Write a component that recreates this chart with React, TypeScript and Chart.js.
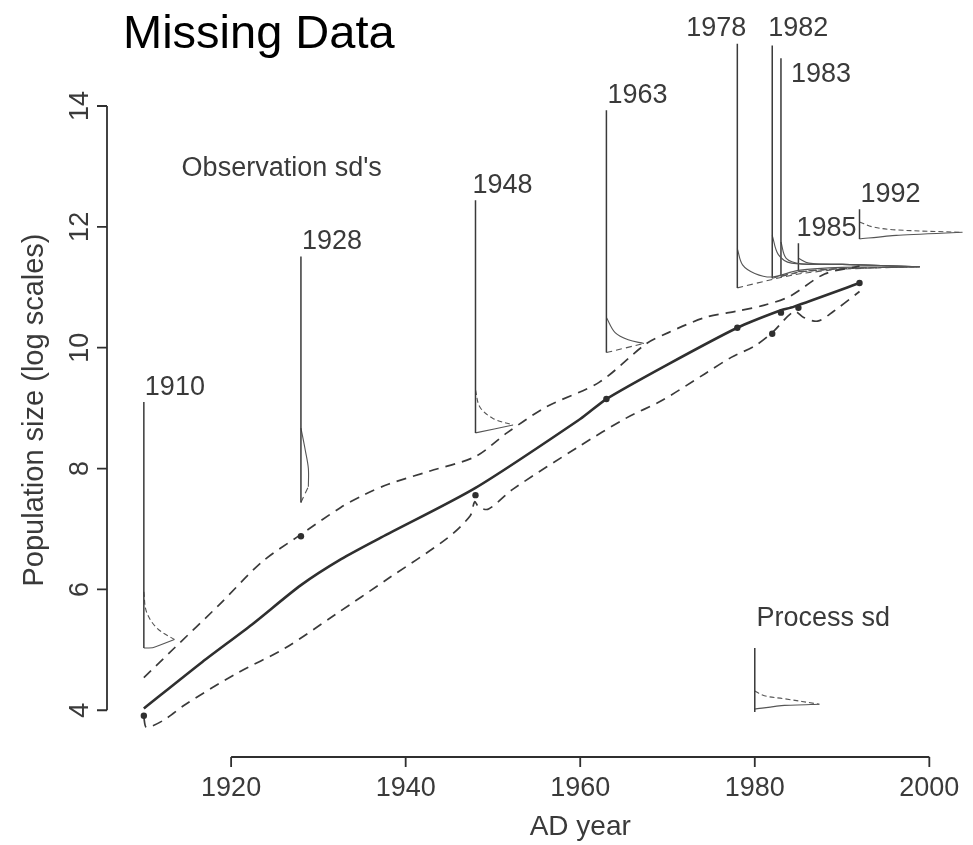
import { useEffect, useRef } from "react";
import { Chart, registerables } from "chart.js";

Chart.register(...registerables);

// ---------- data ----------
const xTicks = [1920, 1940, 1960, 1980, 2000];
const yTicks = [4, 6, 8, 10, 12, 14];

const trendYears = [1910, 1916.7, 1922.4, 1928, 1932.6, 1937.2, 1948, 1960, 1963, 1970, 1978, 1982.6, 1984.5, 1992];
const trendValues = [4.03, 4.8, 5.42, 6.07, 6.5, 6.86, 7.68, 8.82, 9.15, 9.72, 10.33, 10.6, 10.68, 11.07];

const upperYears = [1910, 1913.5, 1918.6, 1923.5, 1927.8, 1932.6, 1935.3, 1938, 1942.8, 1948, 1951.6, 1956.1, 1962.2, 1967.5, 1970.1, 1974.3, 1978.1, 1981, 1984, 1988, 1992];
const upperValues = [4.54, 5.03, 5.74, 6.45, 6.89, 7.36, 7.57, 7.74, 7.96, 8.2, 8.59, 9.02, 9.43, 10.06, 10.25, 10.5, 10.61, 10.7, 10.85, 11.22, 11.35];

const lowerYears = [1910, 1910.3, 1912.2, 1914.8, 1920.5, 1926.2, 1931.9, 1938, 1944.7, 1947.4, 1947.9, 1948.4, 1949.5, 1952.3, 1959.9, 1965.2, 1969.4, 1974.3, 1977.3, 1980, 1982, 1984.5, 1985.6, 1987.2, 1989, 1992];
const lowerValues = [3.88, 3.72, 3.83, 4.1, 4.6, 5.03, 5.58, 6.18, 6.84, 7.22, 7.45, 7.36, 7.33, 7.66, 8.37, 8.83, 9.13, 9.57, 9.84, 10.03, 10.25, 10.6, 10.5, 10.44, 10.6, 10.93];

const obsYears = [1910, 1928, 1948, 1963, 1978, 1982, 1983, 1985, 1992];
const obsValues = [3.91, 6.88, 7.56, 9.15, 10.33, 10.23, 10.58, 10.66, 11.07];

// observation sd glyphs (sideways densities)
const glyphYears = [1910, 1928, 1948, 1963, 1978, 1982, 1983, 1985, 1992];
const glyphTop = [9.1, 11.51, 12.44, 13.93, 15.03, 15.0, 14.79, 11.73, 12.29];
const glyphBottom = [5.03, 7.44, 8.59, 9.92, 10.99, 11.15, 11.18, 11.26, 11.8];
const glyphCurveX = [
  [1910, 1910.3, 1911.5, 1913.5],
  [1928, 1928.5, 1928.85, 1928.85],
  [1948, 1948.5, 1950, 1952.3],
  [1963, 1964, 1965.5, 1967.3],
  [1978, 1978.6, 1980, 1982, 1985, 1990, 1998.9],
  [1982, 1982.7, 1984.2, 1990, 1998.9],
  [1983, 1983.6, 1985.3, 1990, 1998.9],
  [1985, 1986.2, 1990, 1998.9],
  [1992, 1993.5, 1996.2, 2003.8],
];
const glyphCurveY = [
  [5.96, 5.63, 5.36, 5.17],
  [8.67, 8.3, 8.0, 7.7],
  [9.3, 9.02, 8.83, 8.72],
  [10.5, 10.25, 10.13, 10.07],
  [11.64, 11.37, 11.23, 11.17, 11.28, 11.33, 11.34],
  [11.86, 11.54, 11.4, 11.38, 11.34],
  [11.75, 11.48, 11.39, 11.38, 11.34],
  [11.48, 11.4, 11.38, 11.34],
  [12.08, 12.0, 11.95, 11.91],
];
const glyphBaseX = [
  [1910, 1911.1, 1913.5],
  [1928, 1928.85],
  [1948, 1952.3],
  [1963, 1967.3],
  [1978, 1982, 1985, 1990, 1998.9],
  [1982, 1985, 1990, 1998.9],
  [1983, 1986, 1990, 1998.9],
  [1985, 1990, 1998.9],
  [1992, 1996.2, 2003.8],
];
const glyphBaseY = [
  [5.03, 5.04, 5.17],
  [7.44, 7.7],
  [8.59, 8.72],
  [9.92, 10.07],
  [10.99, 11.13, 11.22, 11.3, 11.34],
  [11.15, 11.25, 11.31, 11.34],
  [11.18, 11.27, 11.31, 11.34],
  [11.26, 11.31, 11.34],
  [11.8, 11.86, 11.91],
];

// process sd glyph
const processYear = 1980;
const processTop = 5.03;
const processBottom = 3.97;
const processCurveX = [1980, 1981.1, 1983.4, 1987.4];
const processCurveY = [4.32, 4.24, 4.19, 4.1];
const processBaseX = [1980, 1983.4, 1987.4];
const processBaseY = [4.02, 4.08, 4.1];

const titleText = "Missing Data";
const xTitle = "AD year";
const yTitle = "Population size (log scales)";
const obsNote = { text: "Observation sd's", x: 1925.8, y: 12.96 };
const procNote = { text: "Process sd", x: 1980.2, y: 5.52 };

// ---------- layout / style ----------
const W = 973;
const H = 845;
const X_MIN = 1893.977;
const X_MAX = 2004.545;
const Y_MIN = 1.836;
const Y_MAX = 15.6885;
const FONT = "'Liberation Sans', Arial, Helvetica, sans-serif";
const INK = "#2f2f2f";
const TEXT = "#3a3a3a";
const dashedCurveYears = new Set([1910, 1948, 1992]);

const pts = (xs: number[], ys: number[]) => xs.map((x, i) => ({ x, y: ys[i] }));

function buildDatasets() {
  const ds: any[] = [];
  ds.push({
    data: pts(obsYears, obsValues),
    showLine: false,
    pointRadius: 3.2,
    pointBackgroundColor: INK,
    pointBorderWidth: 0,
  });
  ds.push({
    data: pts(trendYears, trendValues),
    showLine: true,
    borderColor: INK,
    borderWidth: 2.6,
    pointRadius: 0,
    tension: 0.25,
  });
  ds.push({
    data: pts(upperYears, upperValues),
    showLine: true,
    borderColor: "#3a3a3a",
    borderWidth: 1.7,
    borderDash: [10, 7],
    pointRadius: 0,
    tension: 0.3,
  });
  ds.push({
    data: pts(lowerYears, lowerValues),
    showLine: true,
    borderColor: "#3a3a3a",
    borderWidth: 1.7,
    borderDash: [10, 7],
    pointRadius: 0,
    tension: 0.3,
  });
  const addGlyph = (
    year: number, top: number, bottom: number,
    cx: number[], cy: number[], bx: number[], by: number[], curveDashed: boolean
  ) => {
    ds.push({
      data: [{ x: year, y: top }, { x: year, y: bottom }],
      showLine: true, borderColor: "#3a3a3a", borderWidth: 1.5, pointRadius: 0, tension: 0,
    });
    ds.push({
      data: pts(cx, cy),
      showLine: true, borderColor: "#555555", borderWidth: 1.1, pointRadius: 0, tension: 0.35,
      borderDash: curveDashed ? [5, 3] : [],
    });
    ds.push({
      data: pts(bx, by),
      showLine: true, borderColor: "#555555", borderWidth: 1.1, pointRadius: 0, tension: 0.2,
      borderDash: curveDashed ? [] : [6, 4],
    });
  };
  glyphYears.forEach((yr, i) => {
    addGlyph(yr, glyphTop[i], glyphBottom[i], glyphCurveX[i], glyphCurveY[i], glyphBaseX[i], glyphBaseY[i], dashedCurveYears.has(yr));
  });
  addGlyph(processYear, processTop, processBottom, processCurveX, processCurveY, processBaseX, processBaseY, true);
  return ds;
}

const textPlugin = {
  id: "textPlugin",
  afterDraw(chart: any) {
    const ctx: CanvasRenderingContext2D = chart.ctx;
    const xs = chart.scales.x;
    const ys = chart.scales.y;
    const px = (v: number) => xs.getPixelForValue(v);
    const py = (v: number) => ys.getPixelForValue(v);
    ctx.save();

    // title
    ctx.fillStyle = "#000";
    ctx.font = `47px ${FONT}`;
    ctx.textAlign = "left";
    ctx.textBaseline = "alphabetic";
    ctx.fillText(titleText, 123, 48);

    // y axis
    const yAxisX = 107;
    ctx.strokeStyle = INK;
    ctx.lineWidth = 1.8;
    ctx.beginPath();
    ctx.moveTo(yAxisX, py(yTicks[0]));
    ctx.lineTo(yAxisX, py(yTicks[yTicks.length - 1]));
    yTicks.forEach((t) => {
      ctx.moveTo(yAxisX, py(t));
      ctx.lineTo(yAxisX - 10, py(t));
    });
    ctx.stroke();
    ctx.fillStyle = TEXT;
    ctx.font = `27px ${FONT}`;
    ctx.textAlign = "center";
    yTicks.forEach((t) => {
      ctx.save();
      ctx.translate(88, py(t));
      ctx.rotate(-Math.PI / 2);
      ctx.fillText(String(t), 0, 0);
      ctx.restore();
    });
    ctx.save();
    ctx.font = `29px ${FONT}`;
    ctx.translate(43, 410);
    ctx.rotate(-Math.PI / 2);
    ctx.fillText(yTitle, 0, 0);
    ctx.restore();

    // x axis
    const xAxisY = 757;
    ctx.beginPath();
    ctx.moveTo(px(xTicks[0]), xAxisY);
    ctx.lineTo(px(xTicks[xTicks.length - 1]), xAxisY);
    xTicks.forEach((t) => {
      ctx.moveTo(px(t), xAxisY);
      ctx.lineTo(px(t), xAxisY + 10);
    });
    ctx.stroke();
    ctx.font = `27px ${FONT}`;
    xTicks.forEach((t) => ctx.fillText(String(t), px(t), 796));
    ctx.font = `28px ${FONT}`;
    ctx.fillText(xTitle, (px(xTicks[0]) + px(xTicks[xTicks.length - 1])) / 2, 835);

    // glyph labels
    ctx.font = `27px ${FONT}`;
    glyphYears.forEach((yr, i) => {
      const gx = px(yr);
      const gy = py(glyphTop[i]);
      if (yr === 1978) {
        ctx.textAlign = "right";
        ctx.fillText(String(yr), gx + 9, gy - 8);
      } else if (yr === 1983) {
        ctx.textAlign = "left";
        ctx.fillText(String(yr), gx + 10, gy + 24);
      } else if (yr === 1982) {
        ctx.textAlign = "left";
        ctx.fillText(String(yr), gx - 4, gy - 10);
      } else {
        ctx.textAlign = "left";
        ctx.fillText(String(yr), gx + (yr === 1948 ? -3 : yr === 1985 ? -2 : 1), gy - 7);
      }
    });

    // notes
    ctx.textBaseline = "middle";
    ctx.textAlign = "center";
    ctx.fillText(obsNote.text, px(obsNote.x), py(obsNote.y));
    ctx.textAlign = "left";
    ctx.fillText(procNote.text, px(procNote.x), py(procNote.y));

    ctx.restore();
  },
};

export default function App() {
  const ref = useRef<HTMLCanvasElement>(null);
  useEffect(() => {
    if (!ref.current) return;
    const chart = new Chart(ref.current, {
      type: "scatter",
      data: { datasets: buildDatasets() },
      options: {
        animation: false,
        responsive: false,
        devicePixelRatio: 1,
        layout: { padding: 0 },
        plugins: { legend: { display: false }, tooltip: { enabled: false }, title: { display: false } },
        scales: {
          x: { type: "linear", min: X_MIN, max: X_MAX, display: false },
          y: { type: "linear", min: Y_MIN, max: Y_MAX, display: false },
        },
        events: [],
      },
      plugins: [textPlugin],
    });
    return () => chart.destroy();
  }, []);
  return (
    <div style={{ position: "fixed", left: 0, top: 0, width: W, height: H, background: "#fff" }}>
      <canvas ref={ref} width={W} height={H} style={{ display: "block", width: W, height: H }} />
    </div>
  );
}
